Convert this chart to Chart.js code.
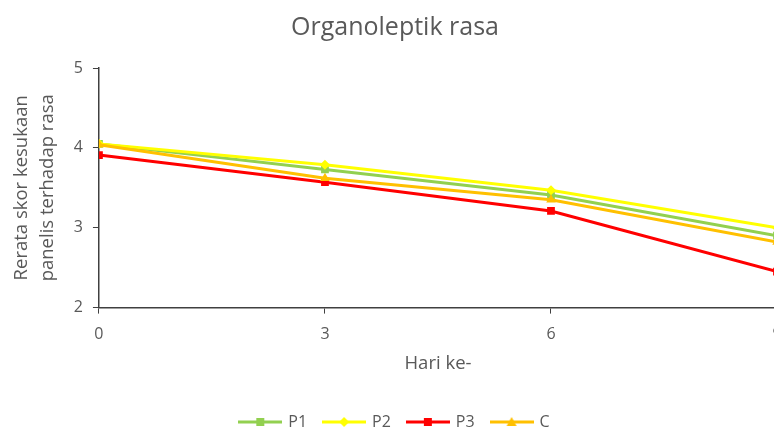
<!DOCTYPE html>
<html>
<head>
<meta charset="utf-8">
<script src="https://cdn.jsdelivr.net/npm/chart.js@4.4.1/dist/chart.umd.min.js"></script>
<style>
    html, body { margin: 0; padding: 0; background: #fff; overflow: hidden; }
    #wrap { width: 795px; height: 440px; }
</style>
</head>
<body>
<div id="wrap"><canvas id="rasaChart"></canvas></div>
<script>
// Data
const days = [0, 3, 6, 9];
const p1 = [4.05, 3.73, 3.41, 2.90];
const p2 = [4.05, 3.79, 3.47, 3.00];
const p3 = [3.91, 3.57, 3.21, 2.45];
const c = [4.04, 3.62, 3.35, 2.82];
const yTicks = [2, 3, 4, 5];

const textColor = '#595959';
const fontFamily = '"Open Sans", "Liberation Sans", sans-serif';

function toPoints(values) {
    return values.map((v, i) => ({ x: days[i], y: v }));
}

// Small picture of line + marker, used as the legend symbol
function legendSymbol(color, style) {
    const cv = document.createElement('canvas');
    cv.width = 44;
    cv.height = 12;
    const g = cv.getContext('2d');
    g.strokeStyle = color;
    g.lineWidth = 3;
    g.beginPath();
    g.moveTo(0, 6);
    g.lineTo(44, 6);
    g.stroke();
    g.fillStyle = color;
    g.beginPath();
    if (style === 'rect') {
        g.rect(18, 2, 8, 8);
    } else if (style === 'rectRot') {
        g.moveTo(22, 1); g.lineTo(27, 6); g.lineTo(22, 11); g.lineTo(17, 6);
    } else {
        g.moveTo(22, 1); g.lineTo(27, 10); g.lineTo(17, 10);
    }
    g.closePath();
    g.fill();
    return cv;
}

const series = [
    { label: 'P1', data: p1, color: '#92D050', style: 'rect', order: 4 },
    { label: 'P2', data: p2, color: '#FFFF00', style: 'rectRot', order: 3 },
    { label: 'P3', data: p3, color: '#FF0000', style: 'rect', order: 2 },
    { label: 'C', data: c, color: '#FFC000', style: 'triangle', order: 1 }
];

const ctx = document.getElementById('rasaChart').getContext('2d');
const rasaChart = new Chart(ctx, {
    type: 'line',
    data: {
        datasets: series.map(s => ({
            label: s.label,
            data: toPoints(s.data),
            borderColor: s.color,
            backgroundColor: s.color,
            borderWidth: 3,
            pointStyle: s.style,
            pointRadius: s.style === 'rectRot' ? 5 : 5.5,
            pointBorderWidth: 0,
            tension: 0,
            order: s.order
        }))
    },
    options: {
        responsive: true,
        maintainAspectRatio: false,
        animation: false,
        layout: { padding: { left: 13, right: 18, top: 0, bottom: 0 } },
        plugins: {
            title: {
                display: true,
                text: 'Organoleptik rasa',
                color: textColor,
                font: { family: fontFamily, size: 25, weight: 'normal' },
                padding: { top: 13, bottom: 25 }
            },
            legend: {
                position: 'bottom',
                labels: {
                    usePointStyle: true,
                    pointStyleWidth: 40,
                    color: textColor,
                    font: { family: fontFamily, size: 16 },
                    padding: 17,
                    generateLabels: chart => series.map((s, i) => ({
                        text: s.label,
                        pointStyle: legendSymbol(s.color, s.style),
                        fontColor: textColor,
                        strokeStyle: s.color,
                        fillStyle: s.color,
                        lineWidth: 0,
                        hidden: false,
                        datasetIndex: i
                    }))
                }
            },
            tooltip: { enabled: false }
        },
        scales: {
            x: {
                type: 'linear',
                min: 0,
                max: 9,
                ticks: {
                    stepSize: 3,
                    color: textColor,
                    font: { family: fontFamily, size: 16 },
                    padding: 11
                },
                grid: { drawOnChartArea: false, tickLength: 6, color: '#404040' },
                border: { color: '#404040', width: 1.5 },
                title: {
                    display: true,
                    text: 'Hari ke-',
                    color: textColor,
                    font: { family: fontFamily, size: 18.5 },
                    padding: { top: -2, bottom: 22 }
                }
            },
            y: {
                min: 2,
                max: 5,
                afterBuildTicks: axis => { axis.ticks = yTicks.map(v => ({ value: v })); },
                ticks: {
                    color: textColor,
                    font: { family: fontFamily, size: 16 },
                    padding: 10
                },
                grid: { drawOnChartArea: false, tickLength: 6, color: '#404040' },
                border: { color: '#404040', width: 1.5 },
                title: {
                    display: true,
                    text: ['Rerata skor kesukaan', 'panelis terhadap rasa'],
                    color: textColor,
                    font: { family: fontFamily, size: 18.5, lineHeight: 1.4 },
                    padding: { top: -4, bottom: 3 }
                }
            }
        }
    }
});
</script>
</body>
</html>
